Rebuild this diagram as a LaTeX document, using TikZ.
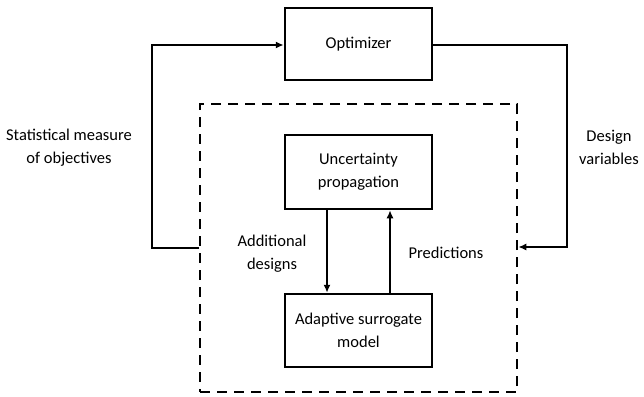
\documentclass[tikz,border=0pt]{standalone}
\usepackage{fontspec}
\setmainfont{Carlito}
\usetikzlibrary{arrows.meta}

\begin{document}
\begin{tikzpicture}[x=1pt,y=-1pt,
  font=\fontsize{16.5}{23}\selectfont,
  block/.style={draw,line width=2.5pt,minimum width=147pt,align=center,inner sep=0pt},
  lbl/.style={align=center,inner sep=0pt},
  arr/.style={line width=2.5pt,-{Latex[length=8pt,width=7pt]}}]
\useasboundingbox (0,0) rectangle (644,396);

% boxes
\node[block,minimum height=72pt] (opt) at (358.5,44) {Optimizer};
\node[draw,dash pattern=on 10pt off 7pt,line width=2.5pt,
      minimum width=317pt,minimum height=288pt,inner sep=0pt] (loop) at (358.5,248) {};
\node[block,minimum height=74pt] (uq) at (358.5,172) {Uncertainty\\propagation};
\node[block,minimum height=73pt] (surr) at (358.5,330.5) {Adaptive surrogate\\model};

% labels
\node[lbl] (stat) at (69,148) {Statistical measure\\of objectives};
\node[lbl] (dv) at (609,147) {Design\\variables};
\node[lbl] (add) at (272,254) {Additional\\designs};
\node[lbl] (pred) at (446,253) {Predictions};

% connectors
\draw[arr] (loop.west) -| (152,45) -- (opt.west |- 0,45);
\draw[arr] (opt.east |- 0,45) -| (567,247) -- (loop.east |- 0,247);
\draw[arr] ([xshift=-31.5pt]uq.south) -- ([xshift=-31.5pt]surr.north);
\draw[arr] ([xshift=31.5pt]surr.north) -- ([xshift=31.5pt]uq.south);
\end{tikzpicture}
\end{document}
